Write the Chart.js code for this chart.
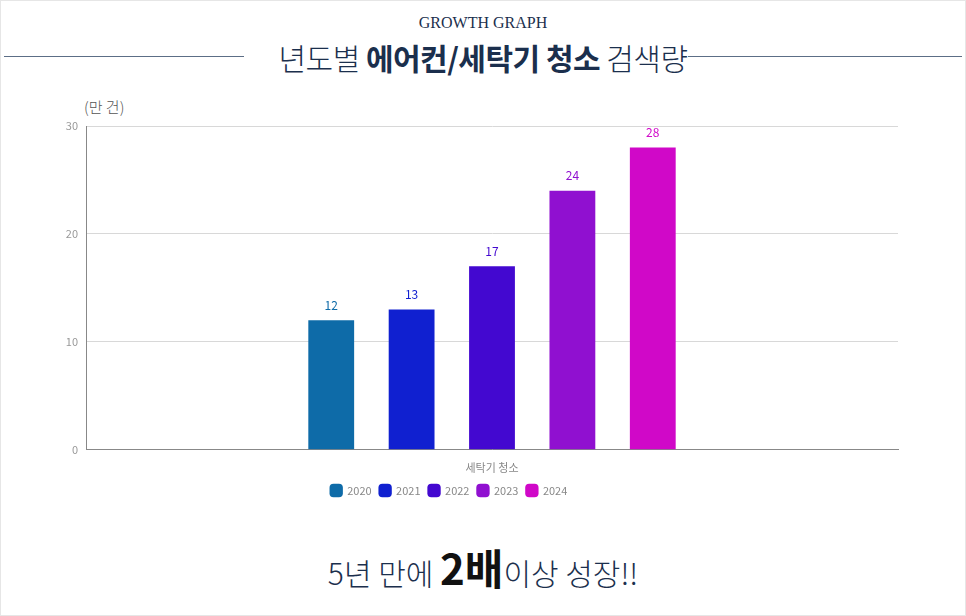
<!DOCTYPE html>
<html><head><meta charset="utf-8">
<script src="https://cdn.jsdelivr.net/npm/chart.js@4"></script>
<style>
html,body{margin:0;padding:0;background:#fff;}
body{width:966px;height:616px;position:relative;overflow:hidden;font-family:"Noto Sans CJK KR","Noto Sans",sans-serif;}
.frame{position:absolute;left:0;top:0;width:964px;height:614px;border:1px solid #e6e6e6;}
.sub{position:absolute;top:14px;width:966px;text-align:center;font-family:"Liberation Serif",serif;font-size:16px;color:#1b2f4d;}
.title{position:absolute;top:37px;width:966px;text-align:center;font-size:30px;font-weight:300;color:#1b2f4d;line-height:40px;letter-spacing:-0.5px;}
.title b{font-weight:700;}
.line{position:absolute;top:56px;height:1px;background:#5c6e86;}
.unit{position:absolute;left:84px;top:96px;font-size:15px;font-weight:300;color:#555;}
.foot{position:absolute;top:550px;width:966px;text-align:center;font-size:30px;font-weight:300;color:#1b2f4d;line-height:50px;}
.foot b{font-size:42px;font-weight:700;color:#111;}
#wrap{position:absolute;left:0;top:100px;width:966px;height:420px;}
</style></head><body>
<div class="frame"></div>
<div class="sub">GROWTH GRAPH</div>
<div class="line" style="left:4px;width:240px"></div>
<div class="line" style="left:688px;width:274px"></div>
<div class="title">년도별 <b>에어컨/세탁기 청소</b> 검색량</div>
<div class="unit">(만 건)</div>
<div id="wrap"><canvas id="c"></canvas></div>
<div class="foot" style="top:542px">5년 만에 <b>2배</b>이상 성장!!</div>
<script>
const categories=["세탁기 청소"];
const years=["2020","2021","2022","2023","2024"];
const values=[12,13,17,24,28];
const colors=["#0e6ba8","#1020d0","#4308d0","#9010d0","#d008c8"];
const yTicks=[0,10,20,30];
const labelPlugin={id:'lbl',afterDatasetsDraw(ch){const c=ch.ctx;c.save();c.font='12px "Noto Sans CJK KR"';c.textAlign='center';c.textBaseline='bottom';
ch.data.datasets.forEach((d,i)=>{const m=ch.getDatasetMeta(i).data[0];c.fillStyle=colors[i];c.fillText(d.data[0],m.x,m.y-9);});c.restore();}};
new Chart(document.getElementById('c'),{type:'bar',
data:{labels:categories,datasets:years.map((y,i)=>({label:y,data:[values[i]],backgroundColor:colors[i],categoryPercentage:0.495,barPercentage:0.57}))},
options:{responsive:true,maintainAspectRatio:false,animation:false,
layout:{padding:{left:0,right:68,top:26,bottom:14}},
plugins:{legend:{position:'bottom',labels:{usePointStyle:true,pointStyle:'rectRounded',boxWidth:12,boxHeight:12,padding:8,color:'#888',font:{size:11,family:'Noto Sans CJK KR'}}},tooltip:{enabled:false}},
scales:{x:{grid:{display:false},border:{color:'#888'},ticks:{color:'#888',font:{size:11,family:'Noto Sans CJK KR'}}},
y:{min:0,max:30,afterFit(s){s.width=86;},afterBuildTicks(s){s.ticks=yTicks.map(v=>({value:v}));},border:{display:true,color:'#888'},grid:{color:'#d8d8d8',drawTicks:false},ticks:{color:'#999',padding:8,font:{size:11,family:'Noto Sans CJK KR'}}}}},
plugins:[labelPlugin]});
</script></body></html>
